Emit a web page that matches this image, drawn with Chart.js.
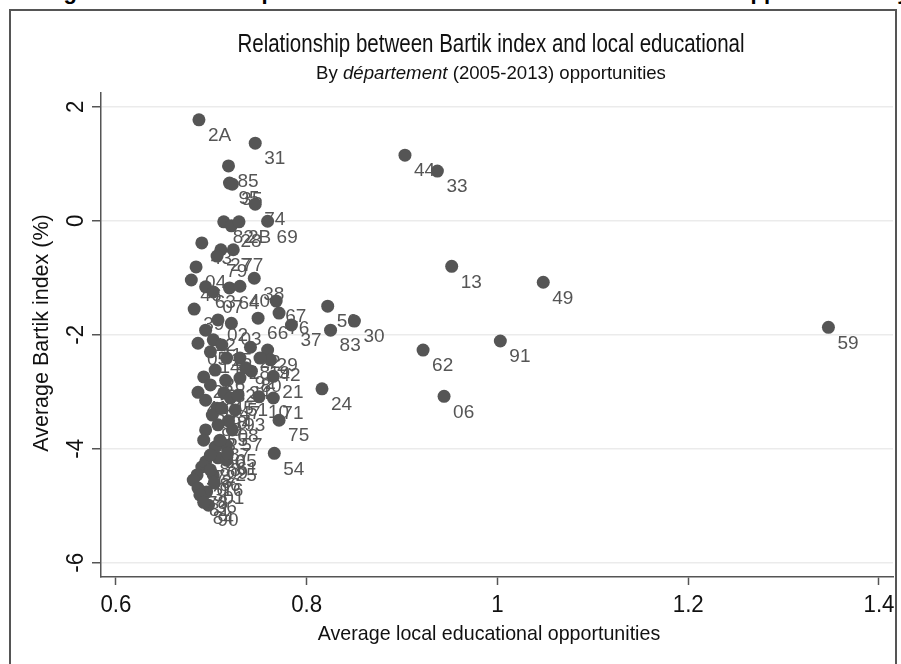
<!DOCTYPE html>
<html>
<head>
<meta charset="utf-8">
<script src="https://cdn.jsdelivr.net/npm/chart.js@4.4.1/dist/chart.umd.min.js"></script>
<style>
  html, body { margin: 0; padding: 0; background: #fff; overflow: hidden; }
  #wrap { position: relative; width: 901px; height: 664px; overflow: hidden; }
  #cut { position: absolute; top: -19px; left: 44px; white-space: nowrap; color: #000;
         font: bold 22px 'Liberation Sans', Arial, sans-serif; line-height: 22px; }
  #frame { position: absolute; left: 9px; top: 9px; width: 884px; height: 680px; border: 2px solid #555; }
  canvas { position: absolute; left: 0; top: 0; }
</style>
</head>
<body>
<div id="wrap">
  <div id="cut">Figure 2: Relationship between Bartik index and local educational opportunities by département</div>
  <div id="frame"></div>
  <canvas id="chart" width="901" height="664"></canvas>
</div>
<script>
// département codes, with values
const deptCodes = [
  '2A', '31', '44', '33', '85', '95', '35', '74', '69', '82',
  '28', '2B', '43', '27', '77', '79', '13', '04', '49', '46',
  '38', '63', '07', '64', '40', '67', '76', '56', '37', '66',
  '30', '83', '59', '91', '62', '06', '24', '29', '42', '21',
  '80', '10', '71', '75', '54', '57', '08', '65', '09', '25',
  '16', '01', '39', '90', '36', '02', '03', '05', '11', '12',
  '14', '15', '17', '18', '19', '22', '23', '26', '32', '34',
  '41', '45', '47', '48', '50', '51', '52', '53', '55', '58',
  '60', '61', '68', '70', '72', '73', '78', '81', '84', '86',
  '87', '88', '89', '92', '93', '94'
];
// x: average local educational opportunities
const eduOpportunities = [
  0.687, 0.746, 0.903, 0.937, 0.718, 0.719, 0.722, 0.746, 0.759, 0.713,
  0.721, 0.729, 0.690, 0.710, 0.723, 0.706, 0.952, 0.684, 1.048, 0.679,
  0.745, 0.694, 0.702, 0.719, 0.730, 0.768, 0.771, 0.822, 0.784, 0.749,
  0.850, 0.825, 1.347, 1.003, 0.922, 0.944, 0.816, 0.759, 0.762, 0.765,
  0.742, 0.750, 0.765, 0.771, 0.766, 0.722, 0.718, 0.716, 0.707, 0.716,
  0.702, 0.703, 0.682, 0.697, 0.695, 0.707, 0.721, 0.686, 0.702, 0.694,
  0.699, 0.711, 0.716, 0.730, 0.751, 0.741, 0.692, 0.704, 0.715, 0.730,
  0.686, 0.713, 0.720, 0.706, 0.694, 0.728, 0.699, 0.694, 0.707, 0.692,
  0.704, 0.717, 0.690, 0.685, 0.694, 0.681, 0.686, 0.688, 0.692, 0.699,
  0.709, 0.699, 0.701, 0.736, 0.725, 0.711
];
// y: average Bartik index (%)
const bartikIndex = [
  1.77, 1.36, 1.15, 0.87, 0.96, 0.66, 0.64, 0.29, -0.01, -0.02,
  -0.09, -0.02, -0.39, -0.51, -0.51, -0.62, -0.80, -0.81, -1.08, -1.04,
  -1.01, -1.16, -1.25, -1.18, -1.15, -1.41, -1.62, -1.50, -1.83, -1.71,
  -1.76, -1.92, -1.87, -2.11, -2.27, -3.08, -2.95, -2.27, -2.44, -2.73,
  -2.64, -3.09, -3.11, -3.50, -4.08, -3.67, -3.51, -3.94, -4.16, -4.20,
  -4.46, -4.60, -1.55, -4.99, -4.76, -1.74, -1.80, -2.15, -2.09, -1.92,
  -2.30, -2.18, -2.41, -2.41, -2.41, -2.22, -2.74, -2.62, -2.80, -2.76,
  -3.01, -3.02, -3.11, -3.29, -3.15, -3.06, -2.88, -3.67, -3.58, -3.85,
  -3.97, -4.08, -4.32, -4.46, -4.23, -4.55, -4.69, -4.81, -4.94, -4.37,
  -3.85, -4.11, -3.41, -2.58, -3.32, -3.29
];
const xTicks = [0.6, 0.8, 1, 1.2, 1.4];
const yTicks = [-6, -4, -2, 0, 2];

const family = "'Liberation Sans', Arial, sans-serif";
const markerColor = '#555555';
const textColor = '#111111';

// draw text squeezed horizontally, to look like the narrow font of the original
function squeezed(ctx, text, x, y, font, sx, rot) {
  ctx.save();
  ctx.font = font;
  ctx.translate(x, y);
  if (rot) ctx.rotate(rot);
  ctx.scale(sx, 1);
  ctx.textAlign = 'center';
  ctx.textBaseline = 'middle';
  ctx.fillText(text, 0, 0);
  ctx.restore();
}

const decorations = {
  id: 'decorations',
  beforeDatasetsDraw(chart) {
    // marker labels go under the markers, like the original
    const ctx = chart.ctx;
    const meta = chart.getDatasetMeta(0);
    ctx.save();
    ctx.font = '19px ' + family;
    ctx.fillStyle = markerColor;
    ctx.textAlign = 'left';
    ctx.textBaseline = 'middle';
    meta.data.forEach((pt, i) => {
      ctx.fillText(deptCodes[i], pt.x + 9, pt.y + 16);
    });
    ctx.restore();
  },
  afterDraw(chart) {
    const ctx = chart.ctx;
    const area = chart.chartArea;
    const cx = (area.left + area.right) / 2 - 6;
    const xs = chart.scales.x;
    const ys = chart.scales.y;
    ctx.save();
    ctx.fillStyle = textColor;

    // title
    squeezed(ctx, 'Relationship between Bartik index and local educational', cx, 45, '25px ' + family, 0.82);

    // subtitle with italic word
    const sub = [
      ['By ', '19px ' + family],
      ['département', 'italic 19px ' + family],
      [' (2005-2013) opportunities', '19px ' + family]
    ];
    const sx = 0.98;
    let total = 0;
    sub.forEach(p => { ctx.font = p[1]; total += ctx.measureText(p[0]).width * sx; });
    let x = cx - total / 2;
    sub.forEach(p => {
      ctx.font = p[1];
      const w = ctx.measureText(p[0]).width * sx;
      squeezed(ctx, p[0], x + w / 2, 74, p[1], sx);
      x += w;
    });

    // tick labels
    xTicks.forEach(v => squeezed(ctx, String(v), xs.getPixelForValue(v), 605, '24px ' + family, 0.93));
    yTicks.forEach(v => squeezed(ctx, String(v), 76, ys.getPixelForValue(v), '24px ' + family, 0.93, -Math.PI / 2));

    // axis titles
    squeezed(ctx, 'Average local educational opportunities', cx - 2, 634, '21px ' + family, 0.935);
    squeezed(ctx, 'Average Bartik index (%)', 42, (area.top + area.bottom) / 2 - 2, '21.5px ' + family, 1, -Math.PI / 2);
    ctx.restore();
  }
};

const ctx = document.getElementById('chart').getContext('2d');
new Chart(ctx, {
  type: 'scatter',
  data: {
    datasets: [{
      data: deptCodes.map((c, i) => ({ x: eduOpportunities[i], y: bartikIndex[i] })),
      backgroundColor: markerColor,
      borderWidth: 0,
      pointRadius: 6.5,
      pointHoverRadius: 6.5
    }]
  },
  options: {
    responsive: false,
    animation: false,
    events: [],
    layout: { padding: { top: 93, right: 8, left: 0, bottom: 0 } },
    plugins: { legend: { display: false }, tooltip: { enabled: false } },
    scales: {
      x: {
        type: 'linear',
        min: 0.5843,
        max: 1.4147,
        afterBuildTicks: s => { s.ticks = xTicks.map(v => ({ value: v })); },
        afterFit: s => { s.height = 87; },
        grid: { drawOnChartArea: false, drawTicks: true, tickLength: 8, tickColor: '#555', tickWidth: 1.5 },
        border: { color: '#555', width: 1.5 },
        ticks: { color: 'rgba(0,0,0,0)', font: { family: family, size: 20 }, maxRotation: 0 }
      },
      y: {
        type: 'linear',
        min: -6.25,
        max: 2.24,
        afterBuildTicks: s => { s.ticks = yTicks.map(v => ({ value: v })); },
        afterFit: s => { s.width = 101; },
        grid: { color: '#ebebeb', lineWidth: 1.5, drawTicks: true, tickLength: 9, tickColor: '#555', tickWidth: 1.5 },
        border: { color: '#555', width: 1.5 },
        ticks: { color: 'rgba(0,0,0,0)', font: { family: family, size: 20 } }
      }
    }
  },
  plugins: [decorations]
});
</script>
</body>
</html>
